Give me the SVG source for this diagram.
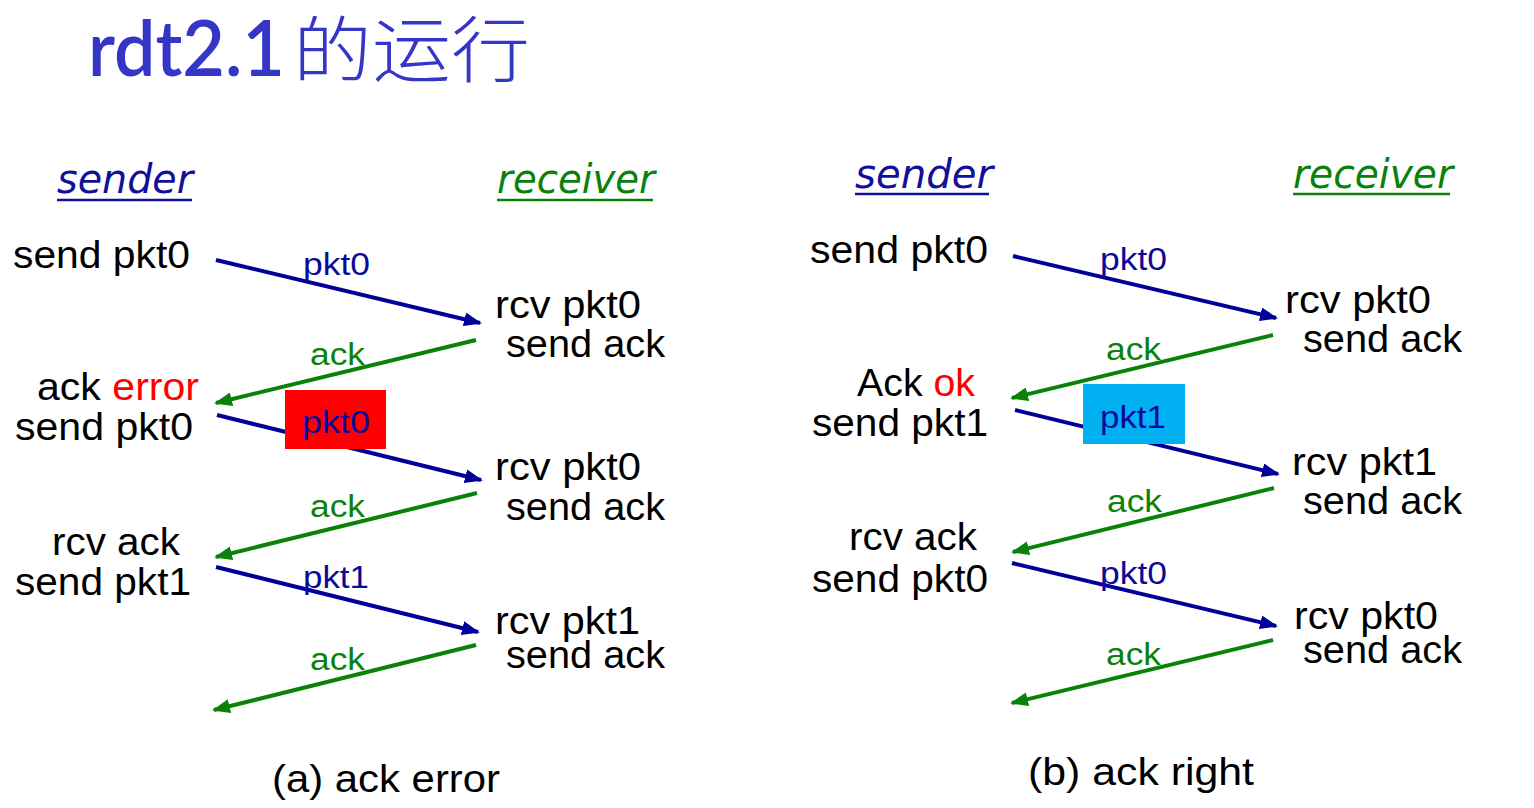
<svg xmlns="http://www.w3.org/2000/svg" width="1534" height="808" viewBox="0 0 1534 808">
<style>
.t{font-family:"Liberation Sans","DejaVu Sans",sans-serif;font-size:38px;fill:#000}
.role{font-family:"DejaVu Sans","Liberation Sans",sans-serif;font-style:italic;font-size:41px}
.snd{fill:#10109a}
.rcv{fill:#0a820a}
.lp{font-family:"Liberation Sans",sans-serif;font-size:31px;fill:#0a0a99}
.la{font-family:"Liberation Sans",sans-serif;font-size:31px;fill:#0a820a}
.red{fill:#ff0000}
.cap{font-family:"Liberation Sans",sans-serif;font-size:38px;fill:#000}
.pa{stroke:#000099;stroke-width:4;fill:none;marker-end:url(#hb)}
.aa{stroke:#0a820a;stroke-width:4;fill:none;marker-end:url(#hg)}
.ul1{stroke:#10109a;stroke-width:2.5}
.ul2{stroke:#0a820a;stroke-width:2.5}
</style>
<defs>
<marker id="hb" markerUnits="userSpaceOnUse" markerWidth="18" markerHeight="14" refX="16" refY="7" orient="auto"><path d="M0,0 L18,7 L0,14 Z" fill="#000099"/></marker>
<marker id="hg" markerUnits="userSpaceOnUse" markerWidth="18" markerHeight="14" refX="16" refY="7" orient="auto"><path d="M0,0 L18,7 L0,14 Z" fill="#0a820a"/></marker>
</defs>
<rect width="1534" height="808" fill="#fff"/>
<g id="title">
<text x="88" y="76" font-family="Lato,'Open Sans',sans-serif" font-weight="600" font-size="76" fill="#3535c8" textLength="197" lengthAdjust="spacingAndGlyphs">rdt2.1</text>
<text x="293" y="76" font-family="'Noto Sans CJK SC',sans-serif" font-weight="300" font-size="72" fill="#3535c8" textLength="237" lengthAdjust="spacingAndGlyphs">的运行</text>
</g>
<g id="connectors">
<line class="pa" x1="216" y1="260" x2="480" y2="323"/>
<line class="aa" x1="476" y1="340" x2="216" y2="403"/>
<line class="pa" x1="217" y1="415" x2="481" y2="480"/>
<line class="aa" x1="477" y1="493" x2="216" y2="557"/>
<line class="pa" x1="216" y1="567" x2="478" y2="632"/>
<line class="aa" x1="476" y1="645" x2="214" y2="710"/>
<line class="pa" x1="1013" y1="256" x2="1276" y2="318"/>
<line class="aa" x1="1273" y1="335" x2="1012" y2="398"/>
<line class="pa" x1="1015" y1="410" x2="1278" y2="474"/>
<line class="aa" x1="1274" y1="488" x2="1013" y2="552"/>
<line class="pa" x1="1012" y1="563" x2="1276" y2="626"/>
<line class="aa" x1="1273" y1="640" x2="1012" y2="703"/>
</g>
<g id="labels">
<text class="lp" x="303" y="275" textLength="67" lengthAdjust="spacingAndGlyphs">pkt0</text>
<text class="la" x="310" y="365" textLength="55" lengthAdjust="spacingAndGlyphs">ack</text>
<rect x="285" y="390" width="101" height="59" fill="#ff0000"/>
<text class="lp" x="302" y="433" textLength="68" lengthAdjust="spacingAndGlyphs">pkt0</text>
<text class="la" x="310" y="517" textLength="55" lengthAdjust="spacingAndGlyphs">ack</text>
<text class="lp" x="303" y="588" textLength="66" lengthAdjust="spacingAndGlyphs">pkt1</text>
<text class="la" x="310" y="670" textLength="55" lengthAdjust="spacingAndGlyphs">ack</text>
<text class="lp" x="1100" y="270" textLength="67" lengthAdjust="spacingAndGlyphs">pkt0</text>
<text class="la" x="1106" y="360" textLength="55" lengthAdjust="spacingAndGlyphs">ack</text>
<rect x="1083" y="384" width="102" height="60" fill="#00b0f0"/>
<text class="lp" x="1100" y="428" textLength="66" lengthAdjust="spacingAndGlyphs">pkt1</text>
<text class="la" x="1107" y="512" textLength="55" lengthAdjust="spacingAndGlyphs">ack</text>
<text class="lp" x="1100" y="584" textLength="67" lengthAdjust="spacingAndGlyphs">pkt0</text>
<text class="la" x="1106" y="665" textLength="55" lengthAdjust="spacingAndGlyphs">ack</text>
</g>
<g id="a-sender">
<text class="role snd" x="57" y="193" textLength="136" lengthAdjust="spacingAndGlyphs">sender</text>
<line class="ul1" x1="57" y1="200" x2="192" y2="200"/>
</g>
<g id="a-receiver">
<text class="role rcv" x="497" y="193" textLength="158" lengthAdjust="spacingAndGlyphs">receiver</text>
<line class="ul2" x1="497" y1="200" x2="653" y2="200"/>
</g>
<g id="a-s1"><text class="t" x="13" y="268" textLength="177" lengthAdjust="spacingAndGlyphs">send pkt0</text></g>
<g id="a-r1"><text class="t" x="495" y="318" textLength="146" lengthAdjust="spacingAndGlyphs">rcv pkt0</text><text class="t" x="506" y="357" textLength="159" lengthAdjust="spacingAndGlyphs">send ack</text></g>
<g id="a-s2"><text class="t" x="37" y="400" textLength="162" lengthAdjust="spacingAndGlyphs">ack <tspan class="red">error</tspan></text><text class="t" x="15" y="440" textLength="178" lengthAdjust="spacingAndGlyphs">send pkt0</text></g>
<g id="a-r2"><text class="t" x="495" y="480" textLength="146" lengthAdjust="spacingAndGlyphs">rcv pkt0</text><text class="t" x="506" y="520" textLength="159" lengthAdjust="spacingAndGlyphs">send ack</text></g>
<g id="a-s3"><text class="t" x="52" y="555" textLength="128" lengthAdjust="spacingAndGlyphs">rcv ack</text><text class="t" x="15" y="595" textLength="176" lengthAdjust="spacingAndGlyphs">send pkt1</text></g>
<g id="a-r3"><text class="t" x="495" y="634" textLength="145" lengthAdjust="spacingAndGlyphs">rcv pkt1</text><text class="t" x="506" y="668" textLength="159" lengthAdjust="spacingAndGlyphs">send ack</text></g>
<g id="a-caption"><text class="cap" x="272" y="792" textLength="228" lengthAdjust="spacingAndGlyphs">(a) ack error</text></g>
<g id="b-sender">
<text class="role snd" x="855" y="188" textLength="138" lengthAdjust="spacingAndGlyphs">sender</text>
<line class="ul1" x1="855" y1="194" x2="989" y2="194"/>
</g>
<g id="b-receiver">
<text class="role rcv" x="1293" y="188" textLength="160" lengthAdjust="spacingAndGlyphs">receiver</text>
<line class="ul2" x1="1293" y1="194" x2="1450" y2="194"/>
</g>
<g id="b-s1"><text class="t" x="810" y="263" textLength="178" lengthAdjust="spacingAndGlyphs">send pkt0</text></g>
<g id="b-r1"><text class="t" x="1285" y="313" textLength="146" lengthAdjust="spacingAndGlyphs">rcv pkt0</text><text class="t" x="1303" y="352" textLength="159" lengthAdjust="spacingAndGlyphs">send ack</text></g>
<g id="b-s2"><text class="t" x="857" y="396" textLength="118" lengthAdjust="spacingAndGlyphs">Ack <tspan class="red">ok</tspan></text><text class="t" x="812" y="436" textLength="176" lengthAdjust="spacingAndGlyphs">send pkt1</text></g>
<g id="b-r2"><text class="t" x="1292" y="475" textLength="145" lengthAdjust="spacingAndGlyphs">rcv pkt1</text><text class="t" x="1303" y="514" textLength="159" lengthAdjust="spacingAndGlyphs">send ack</text></g>
<g id="b-s3"><text class="t" x="849" y="550" textLength="128" lengthAdjust="spacingAndGlyphs">rcv ack</text><text class="t" x="812" y="592" textLength="176" lengthAdjust="spacingAndGlyphs">send pkt0</text></g>
<g id="b-r3"><text class="t" x="1294" y="629" textLength="144" lengthAdjust="spacingAndGlyphs">rcv pkt0</text><text class="t" x="1303" y="663" textLength="159" lengthAdjust="spacingAndGlyphs">send ack</text></g>
<g id="b-caption"><text class="cap" x="1028" y="785" textLength="226" lengthAdjust="spacingAndGlyphs">(b) ack right</text></g>
</svg>
